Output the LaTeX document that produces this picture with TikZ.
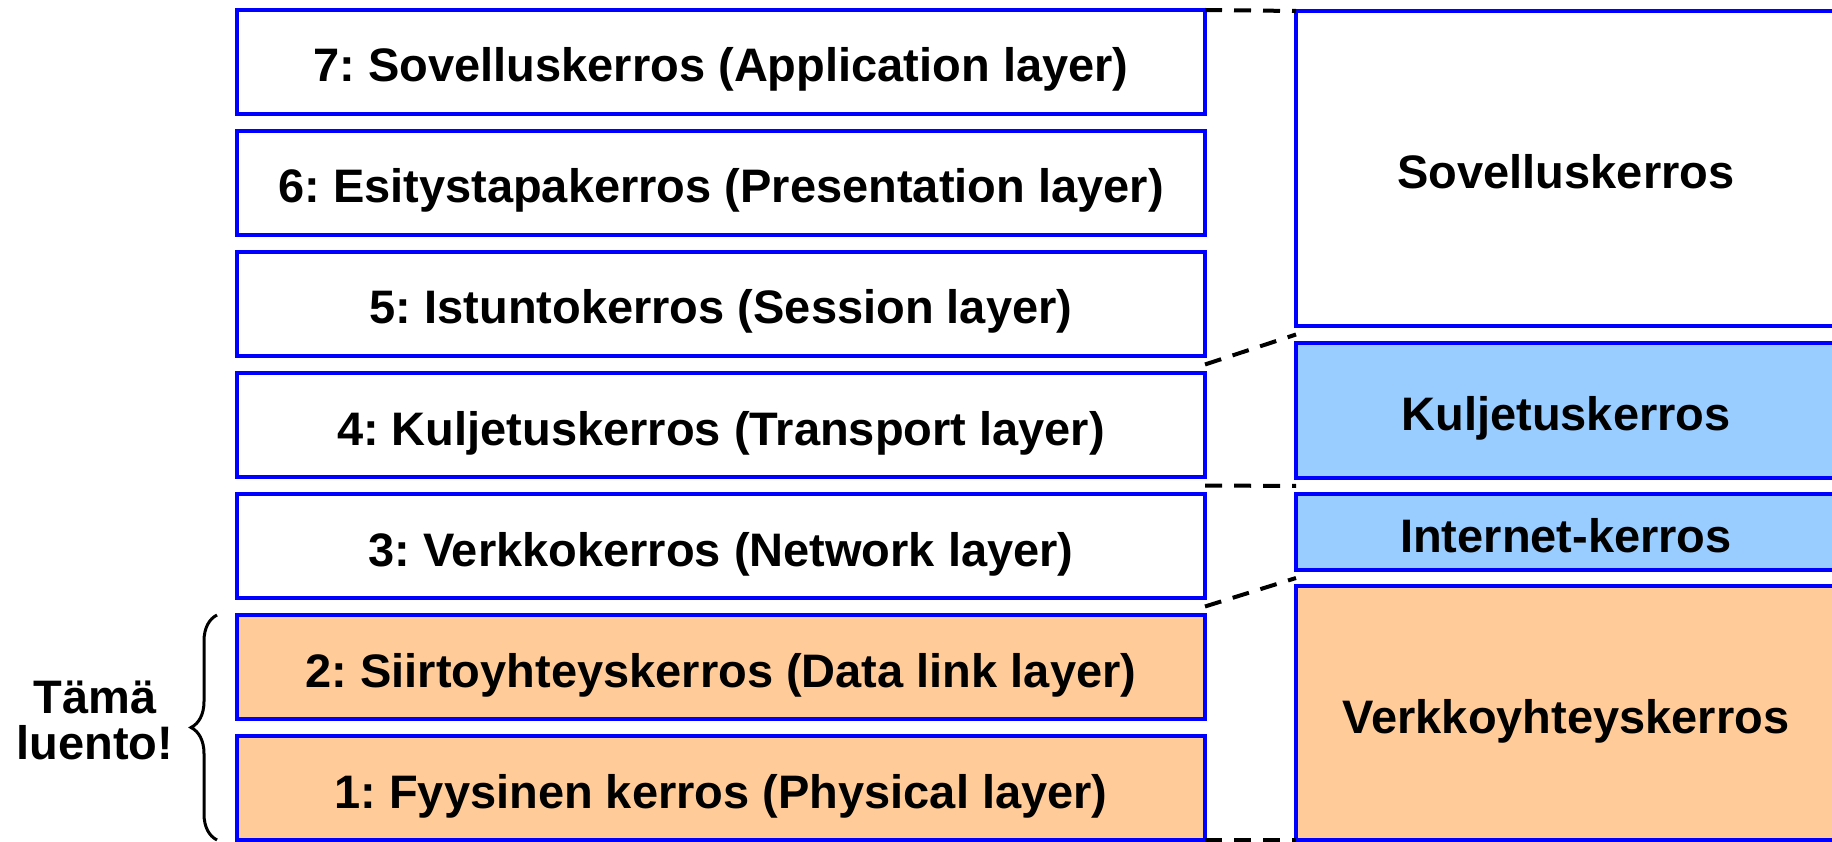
\documentclass[tikz,border=0pt]{standalone}
\usepackage{fontspec}
\setmainfont{Liberation Sans}
\usetikzlibrary{positioning, calc, decorations.pathreplacing}
\definecolor{peach}{HTML}{FFCC99}
\definecolor{sky}{HTML}{99CCFF}
\frenchspacing

\begin{document}
\begin{tikzpicture}[x=1pt, y=-1pt,
		big/.style = {font=\fontsize{47}{46}\selectfont\bfseries},
		layer/.style = {big, draw=blue, line width=3.5pt, outer sep=0pt, inner sep=0pt, minimum width=968pt, minimum height=104pt, text height=40pt, text depth=0pt},
		stack/.style = {layer, minimum width=540pt},
		gap/.style = {draw=black, line width=4pt, dash pattern=on 17pt off 12pt}]
		\useasboundingbox (0,0) rectangle (1832,842);

		\node [layer] (l7) at (721,62) {7: Sovelluskerros (Application layer)};
		\node [layer, below = 17pt of l7] (l6) {6: Esitystapakerros (Presentation layer)};
		\node [layer, below = 17pt of l6] (l5) {5: Istuntokerros (Session layer)};
		\node [layer, below = 17pt of l5] (l4) {4: Kuljetuskerros (Transport layer)};
		\node [layer, below = 17pt of l4] (l3) {3: Verkkokerros (Network layer)};
		\node [layer, fill=peach, below = 17pt of l3] (l2) {2: Siirtoyhteyskerros (Data link layer)};
		\node [layer, fill=peach, below = 17pt of l2] (l1) {1: Fyysinen kerros (Physical layer)};

		\node [stack, anchor=north west, minimum height=315pt] (app) at (1296,11) {Sovelluskerros};
		\node [stack, fill=sky, minimum height=135pt, below = 17pt of app] (trans) {Kuljetuskerros};
		\node [stack, fill=sky, minimum height=76pt, below = 16pt of trans] (inet) {Internet-kerros};
		\node [stack, fill=peach, minimum height=254pt, below = 16pt of inet] (link) {Verkkoyhteyskerros};

		\draw [gap] (l7.north east) -- (app.north west);
		\draw [gap] ($(l5.south east)!.5!(l4.north east)$) -- ($(app.south west)!.5!(trans.north west)$);
		\draw [gap] ($(l4.south east)!.5!(l3.north east)$) -- ($(trans.south west)!.5!(inet.north west)$);
		\draw [gap] ($(l3.south east)!.5!(l2.north east)$) -- ($(inet.south west)!.5!(link.north west)$);
		\draw [gap] (l1.south east) -- (link.south west);

		\draw [decorate, decoration={brace, amplitude=26pt}, line width=3pt]
		([xshift=-20pt]l1.south west) -- ([xshift=-20pt]l2.north west);
		\node [big, align=center] (lecture) at (95,720) {Tämä\\luento!};

	\end{tikzpicture}
\end{document}
